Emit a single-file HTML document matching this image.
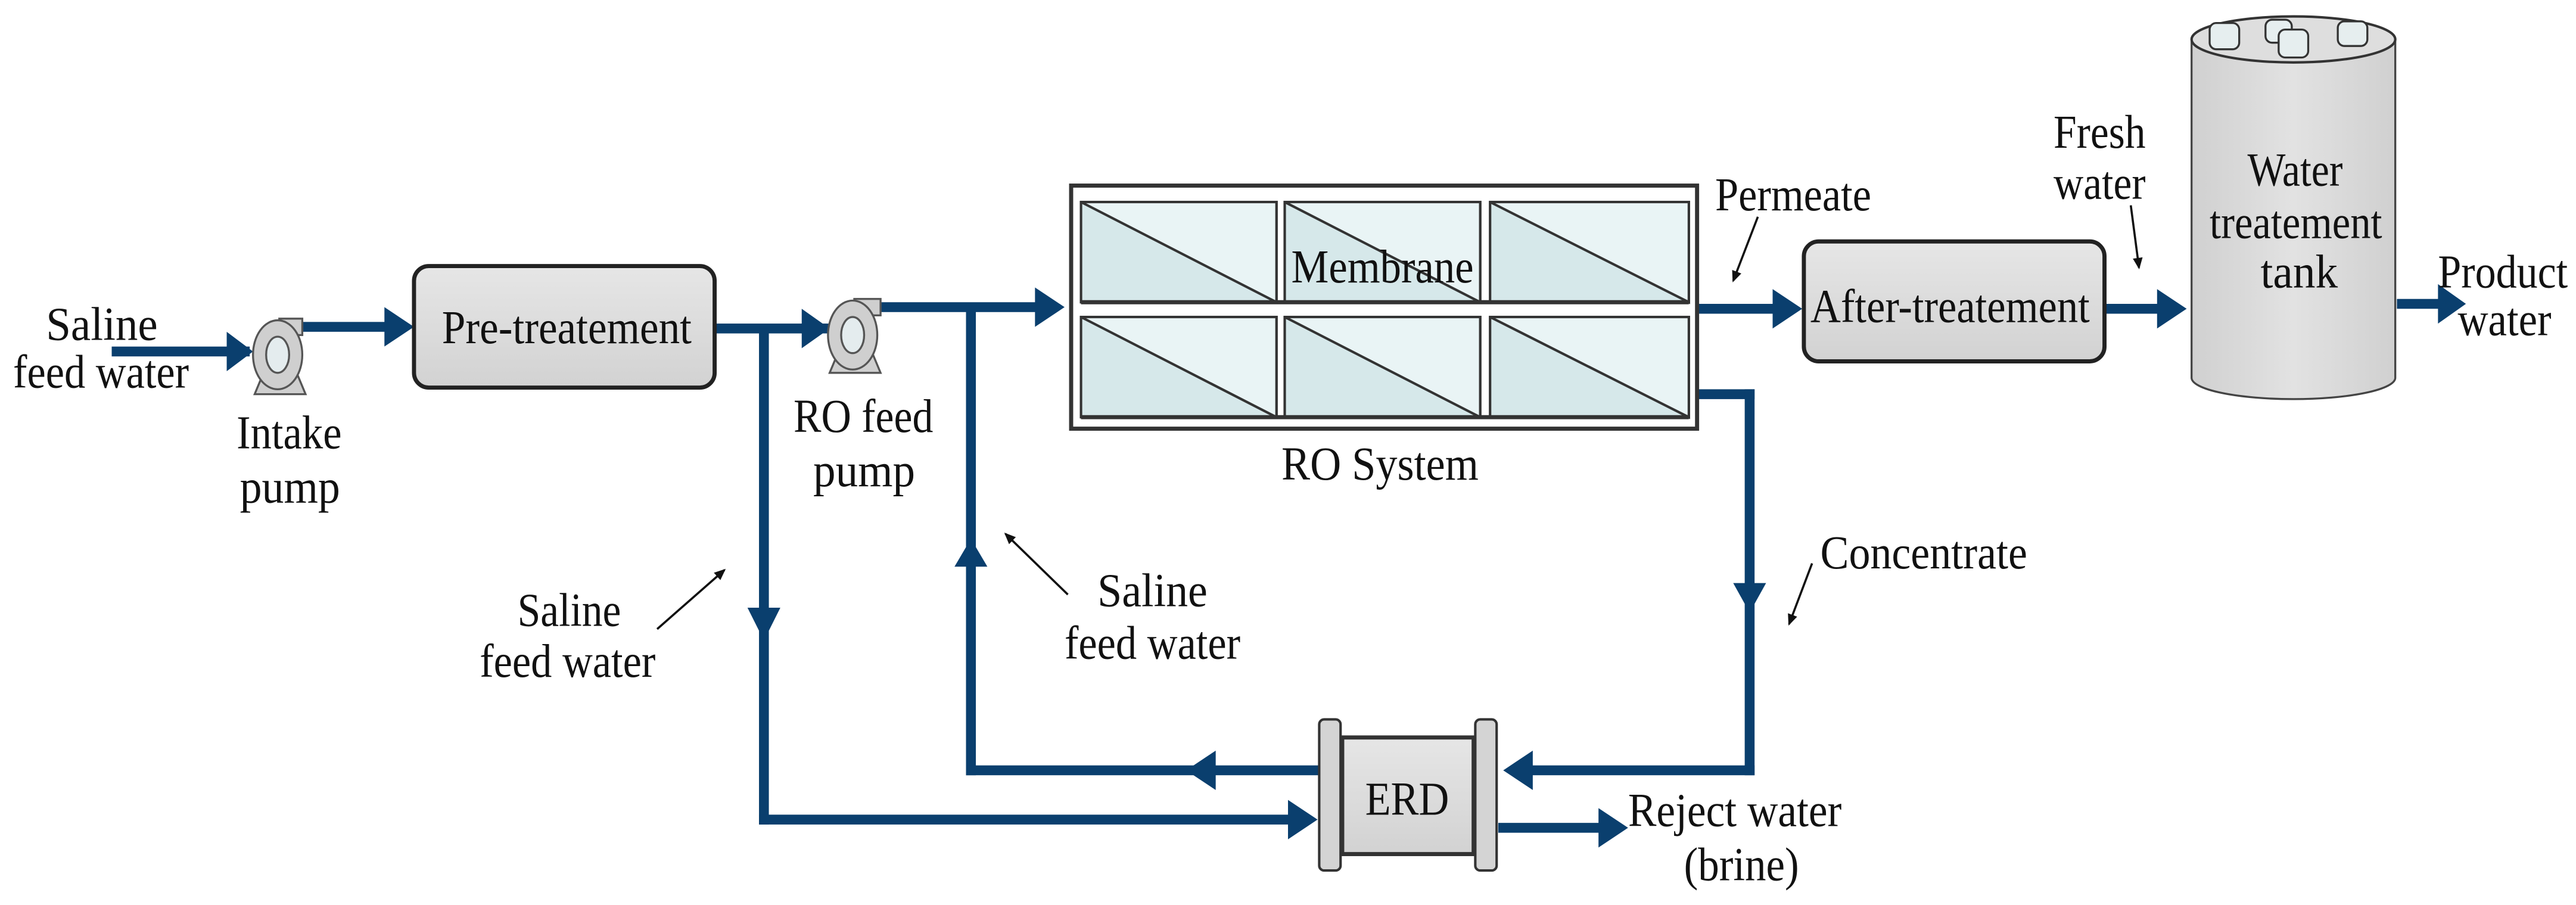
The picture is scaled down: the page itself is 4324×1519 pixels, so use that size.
<!DOCTYPE html>
<html><head><meta charset="utf-8"><style>
html,body{margin:0;padding:0;background:#fff;}
svg{display:block;}
svg text{font-family:"Liberation Serif","DejaVu Serif","Noto Serif CJK SC",serif;font-size:29px;fill:#111;}
</style></head><body>
<svg width="4324" height="1519" viewBox="0 0 1568 551" preserveAspectRatio="none" xmlns="http://www.w3.org/2000/svg" font-family="'Liberation Serif','DejaVu Serif','Noto Serif CJK SC',serif">
<defs>
<linearGradient id="gb" x1="0" y1="0" x2="0" y2="1"><stop offset="0" stop-color="#e6e6e6"/><stop offset="1" stop-color="#d2d2d2"/></linearGradient>
<linearGradient id="tk" x1="0" y1="0" x2="1" y2="0"><stop offset="0" stop-color="#d0d0d0"/><stop offset="0.5" stop-color="#e2e2e2"/><stop offset="1" stop-color="#d0d0d0"/></linearGradient>
<marker id="pa" markerWidth="8" markerHeight="8" refX="6" refY="3" orient="auto" markerUnits="userSpaceOnUse"><path d="M0,0 L7,3 L0,6 z" fill="#111"/></marker>
</defs>
<g fill="#0a3f6e" stroke="none">
<rect x="68" y="211" width="84" height="6"/>
<polygon points="138,202 154,214 138,226"/>
<rect x="180" y="196" width="60" height="6"/>
<polygon points="234,187 252,199 234,211"/>
<rect x="435" y="197" width="70" height="6"/>
<polygon points="488,188 505,200 488,212"/>
<rect x="535" y="184" width="105" height="6"/>
<polygon points="630,175 648,187 630,199"/>
<rect x="462" y="200" width="6" height="302"/>
<polygon points="455,370 475,370 465,390"/>
<rect x="462" y="496" width="325" height="6"/>
<polygon points="784,487 802,499 784,511"/>
<rect x="588" y="187" width="6" height="285"/>
<polygon points="581,345 601,345 591,328"/>
<rect x="588" y="466" width="216" height="6"/>
<polygon points="740,457 722,469 740,481"/>
<rect x="1033" y="185" width="50" height="6"/>
<polygon points="1079,176 1097,188 1079,200"/>
<rect x="1281" y="185" width="35" height="6"/>
<polygon points="1313,176 1331,188 1313,200"/>
<rect x="1459" y="182" width="30" height="6"/>
<polygon points="1484,173 1501,185 1484,197"/>
<rect x="1033" y="237" width="35" height="6"/>
<rect x="1062" y="237" width="6" height="235"/>
<polygon points="1055,355 1075,355 1065,373"/>
<rect x="930" y="466" width="138" height="6"/>
<polygon points="933,457 915,469 933,481"/>
<rect x="912" y="501" width="65" height="6"/>
<polygon points="973,492 991,504 973,516"/>
</g>
<g stroke="#555" stroke-width="1.2" fill="#cfcfcf">
<path d="M155,240 L160,228 L181,228 L186,240 z"/>
<rect x="170" y="194" width="14" height="10"/>
<ellipse cx="169" cy="216" rx="15" ry="21"/>
<ellipse cx="169" cy="216" rx="7" ry="11" fill="#e4ecee"/>
<path d="M505,227 L510,215 L531,215 L536,227 z"/>
<rect x="520" y="182" width="16" height="10"/>
<ellipse cx="519" cy="204" rx="15" ry="21"/>
<ellipse cx="519" cy="204" rx="7" ry="11" fill="#e4ecee"/>
</g>
<rect x="252" y="162" width="183" height="74" rx="9" fill="url(#gb)" stroke="#222" stroke-width="2.5"/>
<text x="269" y="209" textLength="152" lengthAdjust="spacingAndGlyphs">Pre-treatement</text>
<rect x="652" y="113" width="381" height="148" fill="#fff" stroke="#333" stroke-width="2.5"/>
<g stroke="#333" stroke-width="1.5">
<g fill="#d6e8ea">
<rect x="658" y="123" width="119" height="61"/><rect x="782" y="123" width="119" height="61"/><rect x="907" y="123" width="121" height="61"/>
<rect x="658" y="193" width="119" height="61"/><rect x="782" y="193" width="119" height="61"/><rect x="907" y="193" width="121" height="61"/>
</g>
<g fill="#e9f4f5">
<polygon points="658,123 777,123 777,184"/><polygon points="782,123 901,123 901,184"/><polygon points="907,123 1028,123 1028,184"/>
<polygon points="658,193 777,193 777,254"/><polygon points="782,193 901,193 901,254"/><polygon points="907,193 1028,193 1028,254"/>
</g>
<line x1="658" y1="184" x2="1028" y2="184" stroke-width="2.5"/>
<line x1="658" y1="254" x2="1028" y2="254" stroke-width="2.5"/>
</g>
<text x="786" y="172" textLength="111" lengthAdjust="spacingAndGlyphs">Membrane</text>
<text x="780" y="292" textLength="120" lengthAdjust="spacingAndGlyphs">RO System</text>
<rect x="1098" y="147" width="183" height="73" rx="9" fill="url(#gb)" stroke="#222" stroke-width="2.5"/>
<text x="1102" y="196" textLength="170" lengthAdjust="spacingAndGlyphs">After-treatement</text>
<path d="M1334,24 L1334,230 A62,13 0 0 0 1458,230 L1458,24" fill="url(#tk)" stroke="#444" stroke-width="1.2"/>
<ellipse cx="1396" cy="24" rx="62" ry="14" fill="#dedede" stroke="#333" stroke-width="1.5"/>
<g fill="#e6eeef" stroke="#333" stroke-width="1.2">
<rect x="1345" y="14" width="18" height="16" rx="4"/>
<rect x="1379" y="12" width="16" height="14" rx="4"/>
<rect x="1387" y="18" width="18" height="17" rx="4"/>
<rect x="1423" y="13" width="18" height="15" rx="4"/>
</g>
<text x="1368" y="113" textLength="58" lengthAdjust="spacingAndGlyphs">Water</text>
<text x="1345" y="145" textLength="105" lengthAdjust="spacingAndGlyphs">treatement</text>
<text x="1376" y="175" textLength="47" lengthAdjust="spacingAndGlyphs">tank</text>
<rect x="817" y="449" width="80" height="71" fill="url(#gb)" stroke="#333" stroke-width="2.5"/>
<rect x="803" y="438" width="13" height="92" rx="3" fill="#d4d4d4" stroke="#333" stroke-width="1.5"/>
<rect x="898" y="438" width="13" height="92" rx="3" fill="#d4d4d4" stroke="#333" stroke-width="1.5"/>
<text x="831" y="496" textLength="51" lengthAdjust="spacingAndGlyphs">ERD</text>
<text x="28" y="207" textLength="68" lengthAdjust="spacingAndGlyphs">Saline</text>
<text x="8" y="236" textLength="107" lengthAdjust="spacingAndGlyphs">feed water</text>
<text x="144" y="273" textLength="64" lengthAdjust="spacingAndGlyphs">Intake</text>
<text x="146" y="306" textLength="61" lengthAdjust="spacingAndGlyphs">pump</text>
<text x="483" y="263" textLength="85" lengthAdjust="spacingAndGlyphs">RO feed</text>
<text x="495" y="296" textLength="62" lengthAdjust="spacingAndGlyphs">pump</text>
<text x="315" y="381" textLength="63" lengthAdjust="spacingAndGlyphs">Saline</text>
<text x="292" y="412" textLength="107" lengthAdjust="spacingAndGlyphs">feed water</text>
<text x="668" y="369" textLength="67" lengthAdjust="spacingAndGlyphs">Saline</text>
<text x="648" y="401" textLength="107" lengthAdjust="spacingAndGlyphs">feed water</text>
<text x="1044" y="128" textLength="95" lengthAdjust="spacingAndGlyphs">Permeate</text>
<text x="1250" y="90" textLength="56" lengthAdjust="spacingAndGlyphs">Fresh</text>
<text x="1250" y="121" textLength="56" lengthAdjust="spacingAndGlyphs">water</text>
<text x="1484" y="175" textLength="79" lengthAdjust="spacingAndGlyphs">Product</text>
<text x="1496" y="204" textLength="57" lengthAdjust="spacingAndGlyphs">water</text>
<text x="1108" y="346" textLength="126" lengthAdjust="spacingAndGlyphs">Concentrate</text>
<text x="991" y="503" textLength="130" lengthAdjust="spacingAndGlyphs">Reject water</text>
<text x="1025" y="536" textLength="70" lengthAdjust="spacingAndGlyphs">(brine)</text>
<g stroke="#111" stroke-width="1.3" marker-end="url(#pa)">
<line x1="400" y1="383" x2="441" y2="347"/>
<line x1="650" y1="362" x2="612" y2="325"/>
<line x1="1070" y1="132" x2="1055" y2="171"/>
<line x1="1297" y1="125" x2="1302" y2="163"/>
<line x1="1103" y1="343" x2="1089" y2="380"/>
</g>
</svg>
</body></html>
